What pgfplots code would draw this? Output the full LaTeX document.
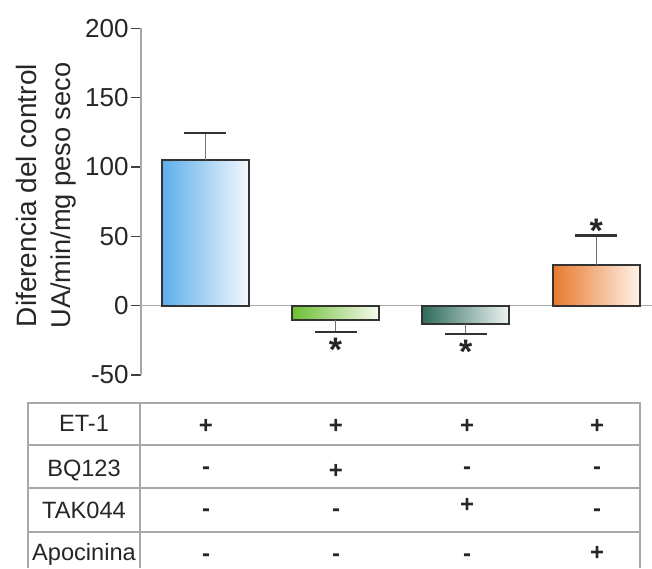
\documentclass[border=0pt]{standalone}
\usepackage{pgfplots}
\pgfplotsset{compat=1.18}
\usepackage{fontspec}
\setmainfont{Liberation Sans}

\definecolor{bluL}{HTML}{5CAEEA}
\definecolor{bluR}{HTML}{F3F8FE}
\definecolor{grnL}{HTML}{6CBF34}
\definecolor{grnR}{HTML}{F7FAEE}
\definecolor{tealL}{HTML}{2E6C5C}
\definecolor{tealR}{HTML}{EEF4F4}
\definecolor{orgL}{HTML}{E8782C}
\definecolor{orgR}{HTML}{FFF2E8}
\definecolor{gridgray}{HTML}{A8A8A8}

\pgfplotsset{
  barstyle/.style={ybar, bar width=0.667, bar shift=0pt, draw=black!80,
    line width=1pt, forget plot},
  errstyle/.style={draw=none, mark=none, forget plot,
    error bars/.cd, y explicit, y dir=#1,
    error bar style={draw=black!55, line width=0.6pt},
    error mark options={rotate=90, mark size=10.5pt, line width=1.2pt, draw=black!80}},
}
\tikzset{
  starmark/.style={anchor=base, inner sep=0pt, yshift=-9.3pt,
    font=\bfseries\fontsize{17}{17}\selectfont, text=black!85},
}

\begin{document}
\begin{tikzpicture}
\path[use as bounding box] (0,0) rectangle (326pt,284pt);

\begin{axis}[
  at={(70.5pt,96.5pt)}, anchor=south west,
  scale only axis, width=255.5pt, height=173.35pt,
  xmin=-0.493, xmax=3.429, ymin=-50, ymax=200,
  clip=false,
  axis x line=none,
  axis y line*=left,
  y axis line style={draw=gridgray, line width=0.75pt, -},
  xtick=\empty,
  ytick={-50,0,50,100,150,200},
  yticklabels={-50,0,50,100,150,200},
  tick align=outside,
  major tick length=5pt,
  ytick style={draw=black!75, line width=0.8pt},
  yticklabel style={font=\fontsize{13}{13}\selectfont, text=black!85, inner xsep=1pt},
]
% baseline at zero
\addplot[draw=gridgray, line width=0.75pt, forget plot] coordinates {(-0.493,0) (3.429,0)};

% group means
\addplot[barstyle, left color=bluL, right color=bluR] coordinates {(0,105.0)};
\addplot[barstyle, left color=grnL, right color=grnR] coordinates {(1,-10.4)};
\addplot[barstyle, left color=tealL, right color=tealR] coordinates {(2,-13.3)};
\addplot[barstyle, left color=orgL, right color=orgR] coordinates {(3,29.3)};

% one-sided error bars
\addplot[errstyle=plus]  coordinates {(0,105.0) +- (0,19.5)};
\addplot[errstyle=minus] coordinates {(1,-10.4) +- (0,8.6)};
\addplot[errstyle=minus] coordinates {(2,-13.3) +- (0,7.2)};
\addplot[errstyle=plus]  coordinates {(3,29.3) +- (0,21.4)};

% significance marks
\node[starmark] at (axis cs:1,-26.8) {*};
\node[starmark] at (axis cs:2,-28.3) {*};
\node[starmark] at (axis cs:3,59.0) {*};
\end{axis}

% y label
\node[rotate=90, anchor=base, font=\fontsize{14}{14}\selectfont, text=black!85] at (18.35pt,186.2pt) {Diferencia del control};
\node[rotate=90, anchor=base, font=\fontsize{13.6}{13.6}\selectfont, text=black!85] at (35pt,186.2pt) {UA/min/mg peso seco};

% treatment table
\begin{scope}[draw=gridgray, line width=0.7pt]
  \draw (14pt,0) -- (14pt,82.5pt) -- (320pt,82.5pt) -- (320pt,0);
  \draw (70pt,0) -- (70pt,82.5pt);
  \draw (14pt,61.5pt) -- (320pt,61.5pt);
  \draw (14pt,40pt) -- (320pt,40pt);
  \draw (14pt,18pt) -- (320pt,18pt);
\end{scope}

\begin{scope}[every node/.style={anchor=base, inner sep=0pt, font=\fontsize{11.8}{11.8}\selectfont, text=black!85}]
  \node at (42pt,68.3pt) {ET-1};
  \node at (42pt,45.8pt) {BQ123};
  \node at (42pt,24.8pt) {TAK044};
  \node at (42pt,3.8pt)  {Apocinina};
\end{scope}

\begin{scope}[every node/.style={anchor=base, inner sep=0pt, font=\bfseries\fontsize{12}{12}\selectfont, text=black!85}]
  % ET-1
  \node at (103pt,67.5pt) {+};
  \node at (168pt,67.5pt) {+};
  \node at (233.5pt,67.5pt) {+};
  \node at (298.5pt,67.5pt) {+};
  % BQ123
  \node at (103pt,47pt) {-};
  \node at (168pt,45pt) {+};
  \node at (233.5pt,47pt) {-};
  \node at (298.5pt,47pt) {-};
  % TAK044
  \node at (103pt,26pt) {-};
  \node at (168pt,26pt) {-};
  \node at (233.5pt,28pt) {+};
  \node at (298.5pt,26pt) {-};
  % Apocinina
  \node at (103pt,3.5pt) {-};
  \node at (168pt,3.5pt) {-};
  \node at (233.5pt,3.5pt) {-};
  \node at (298.5pt,4pt) {+};
\end{scope}
\end{tikzpicture}
\end{document}
